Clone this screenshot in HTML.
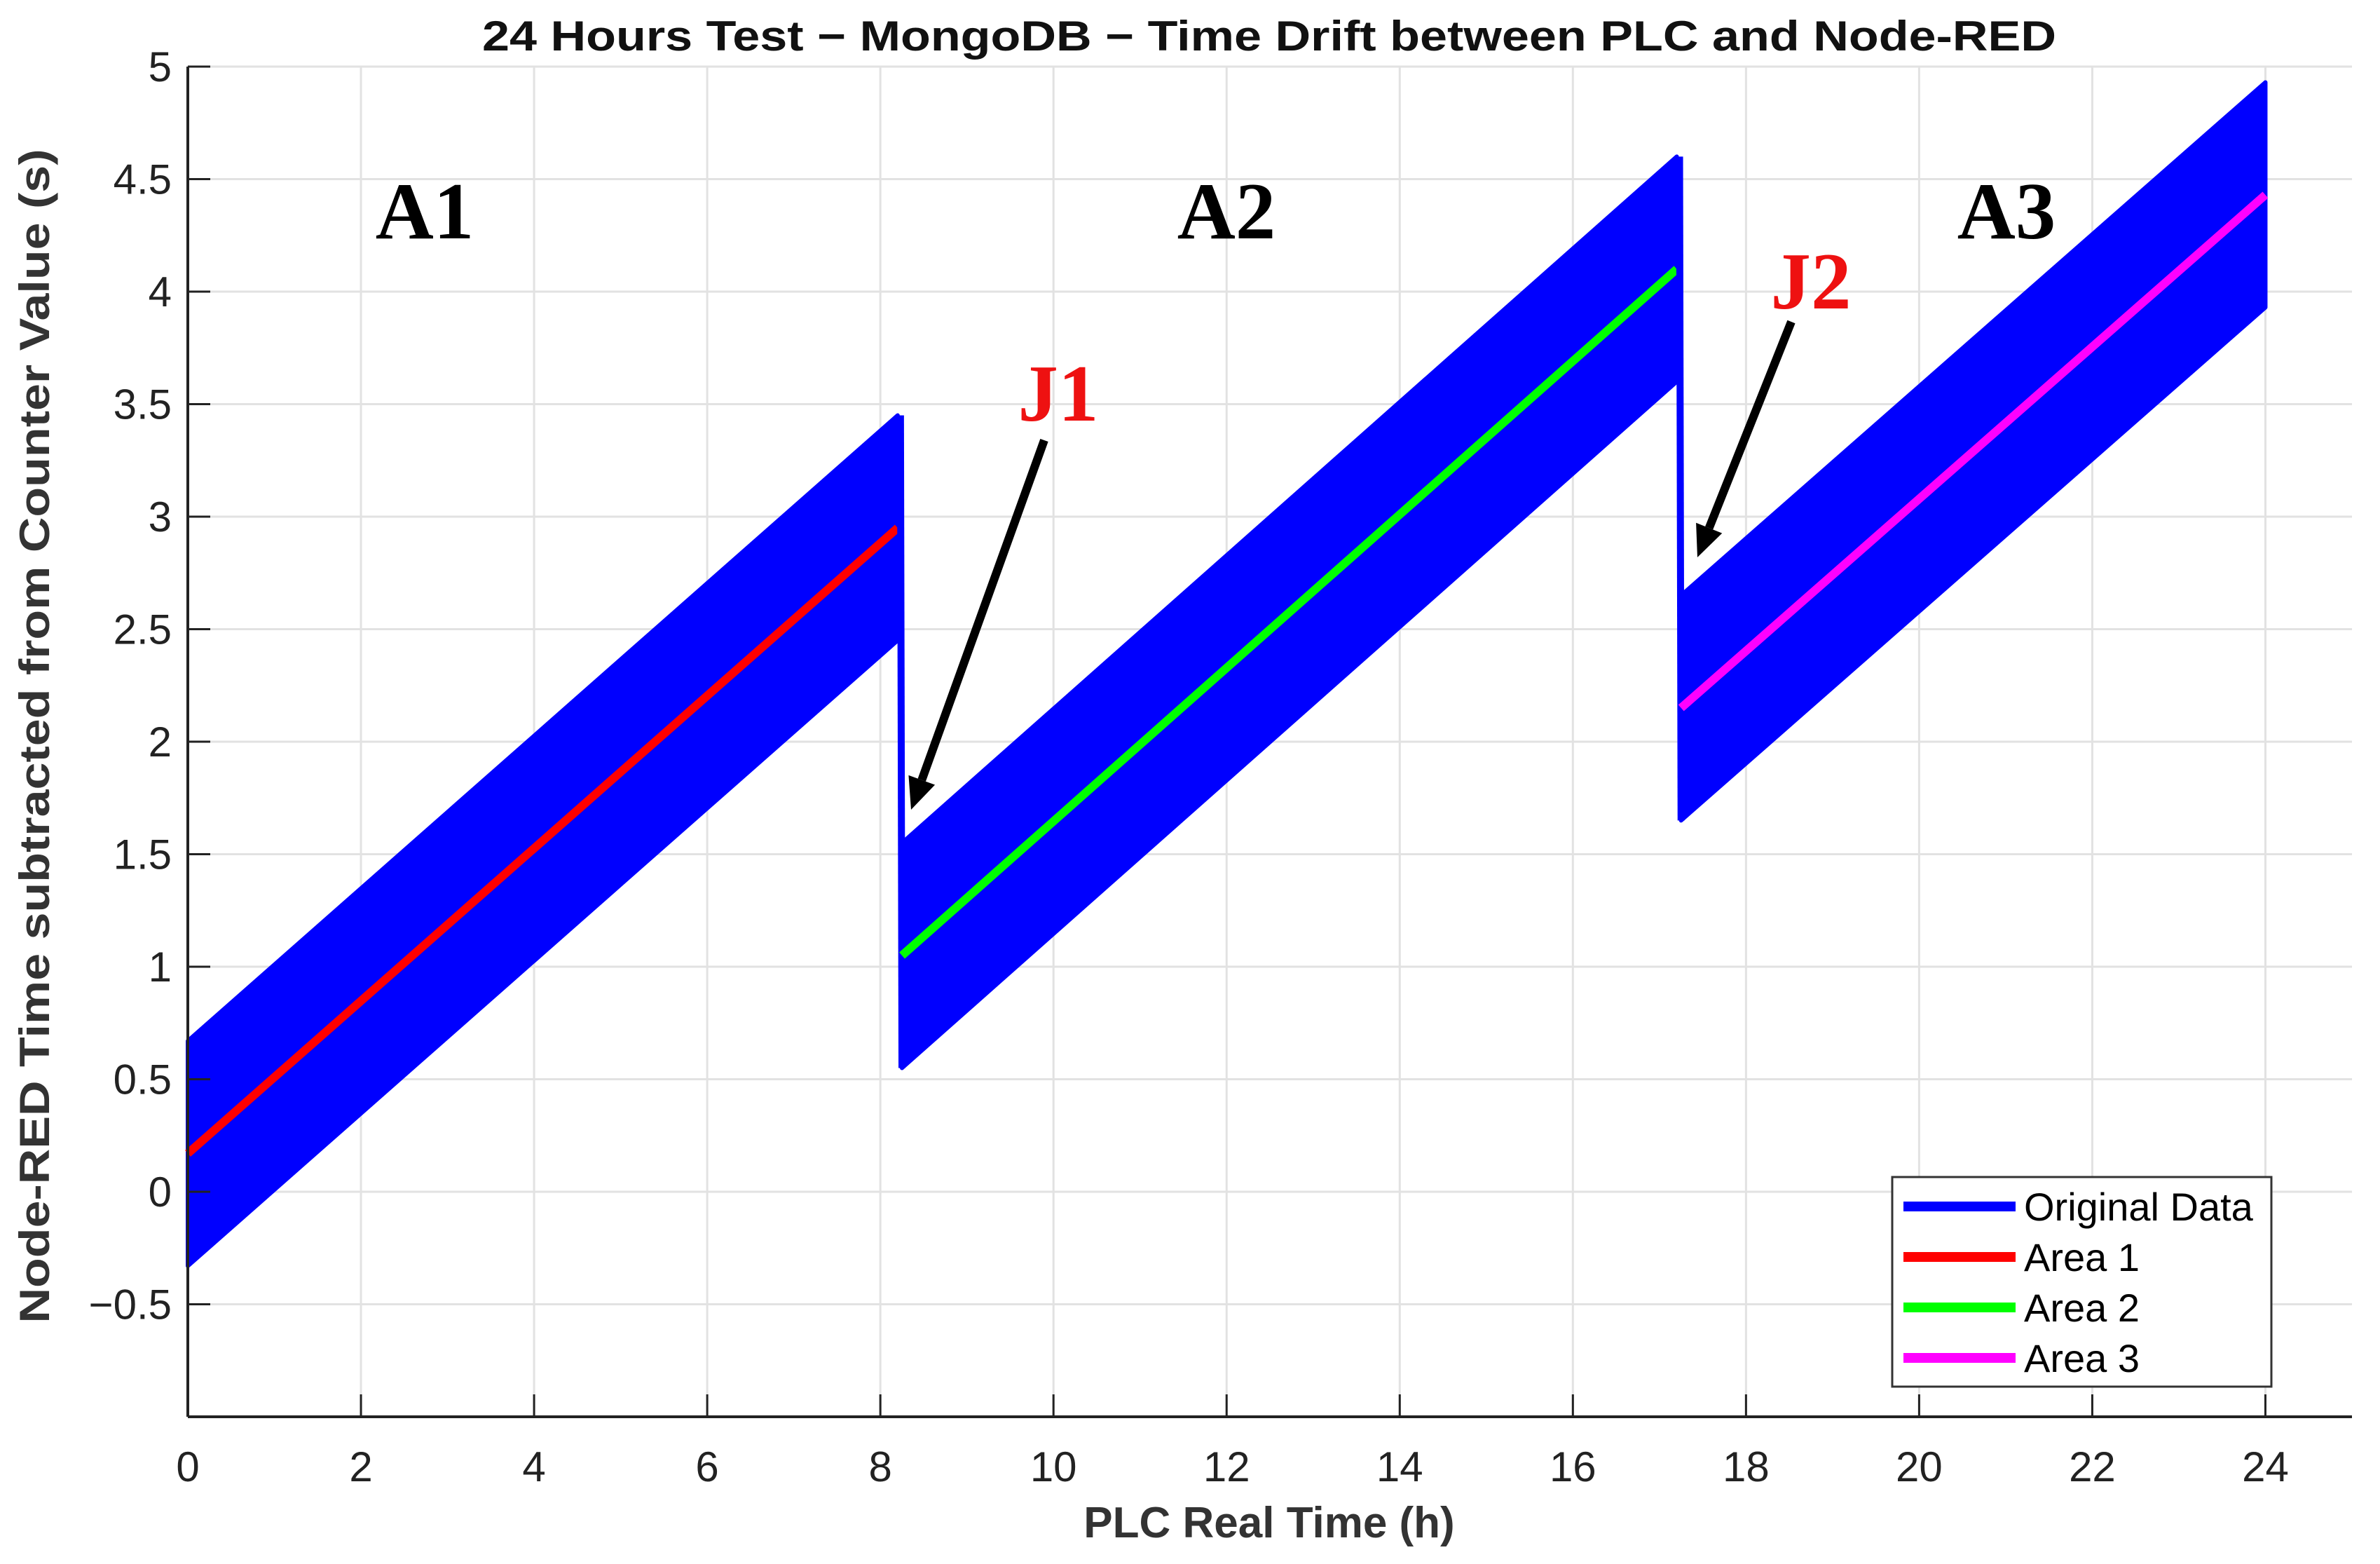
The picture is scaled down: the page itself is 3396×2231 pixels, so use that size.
<!DOCTYPE html>
<html><head><meta charset="utf-8"><style>
html,body{margin:0;padding:0;background:#fff}
svg{display:block}
</style></head><body>
<svg id="chart" width="3396" height="2231" viewBox="0 0 3396 2231" xmlns="http://www.w3.org/2000/svg">
<rect width="3396" height="2231" fill="#fff"/>
<g id="grid"></g>
<g id="data"></g>
<g id="axes"></g>
<text x="1811" y="72" font-family="Liberation Sans, sans-serif" font-weight="bold" font-size="60" text-anchor="middle" textLength="2246" lengthAdjust="spacingAndGlyphs" fill="#111">24 Hours Test − MongoDB − Time Drift between PLC and Node-RED</text>
<text x="1811" y="2193" font-family="Liberation Sans, sans-serif" font-weight="bold" font-size="62" text-anchor="middle" fill="#333">PLC Real Time (h)</text>
<text transform="translate(70,1050) rotate(-90)" font-family="Liberation Sans, sans-serif" font-weight="bold" font-size="60" text-anchor="middle" textLength="1675" lengthAdjust="spacingAndGlyphs" fill="#333">Node-RED Time subtracted from Counter Value (s)</text>
<g font-family="Liberation Serif, serif" font-weight="bold" font-size="115">
<text x="606" y="340" text-anchor="middle" fill="#000">A1</text>
<text x="1750" y="340" text-anchor="middle" fill="#000">A2</text>
<text x="2863" y="340" text-anchor="middle" fill="#000">A3</text>
<text x="1510" y="600" text-anchor="middle" fill="#ee1111">J1</text>
<text x="2584" y="440" text-anchor="middle" fill="#ee1111">J2</text>
</g>
<g id="arrows"></g>
<g>
<rect x="2700" y="1679" width="541" height="299" fill="#fff" stroke="#333" stroke-width="3"/>
<g font-family="Liberation Sans, sans-serif" font-size="56" fill="#000">
<line x1="2716" y1="1721" x2="2876" y2="1721" stroke="#0000ff" stroke-width="14"/>
<text x="2888" y="1741">Original Data</text>
<line x1="2716" y1="1793" x2="2876" y2="1793" stroke="#ff0000" stroke-width="14"/>
<text x="2888" y="1813">Area 1</text>
<line x1="2716" y1="1865" x2="2876" y2="1865" stroke="#00ff00" stroke-width="14"/>
<text x="2888" y="1885">Area 2</text>
<line x1="2716" y1="1937" x2="2876" y2="1937" stroke="#ff00ff" stroke-width="14"/>
<text x="2888" y="1957">Area 3</text>
</g></g>
</svg>
<script>
const xTicks = [0,2,4,6,8,10,12,14,16,18,20,22,24];
const yTicks = [-0.5,0,0.5,1,1.5,2,2.5,3,3.5,4,4.5,5];
const yTickLabels = ["−0.5","0","0.5","1","1.5","2","2.5","3","3.5","4","4.5","5"];
const segStart = [0, 8.25, 17.25];
const segEnd = [8.2, 17.2, 24];
const fitStartVal = [0.17, 1.05, 2.15];
const fitEndVal = [2.95, 4.1, 4.43];
const bandHalf = [0.5, 0.5, 0.5];
const fitColors = ["#ff0000","#00ff00","#ff00ff"];
const fitNames = ["fit-line-area1","fit-line-area2","fit-line-area3"];

const X0=268, X1=3356, Y0=2021, Y1=95, xMin=0,xMax=25,yMin=-1,yMax=5;
const sx=v=>X0+(v-xMin)/(xMax-xMin)*(X1-X0);
const sy=v=>Y0-(v-yMin)/(yMax-yMin)*(Y0-Y1);
const NS="http://www.w3.org/2000/svg";
function mk(tag,attrs,parent){const e=document.createElementNS(NS,tag);for(const k in attrs)e.setAttribute(k,attrs[k]);parent.appendChild(e);return e;}
const grid=document.getElementById('grid'),axes=document.getElementById('axes'),data=document.getElementById('data'),arrows=document.getElementById('arrows');

xTicks.forEach(t=>{
  const g=mk('line',{x1:sx(t),x2:sx(t),y1:Y1,y2:Y0,stroke:'#e2e2e2','stroke-width':3},grid);
  
  
  const tk=mk('line',{x1:sx(t),x2:sx(t),y1:Y0,y2:Y0-32,stroke:'#222','stroke-width':3},axes);
  
  
  const lb=mk('text',{x:sx(t),y:2113,'text-anchor':'middle','font-family':'Liberation Sans, sans-serif','font-size':60,fill:'#222'},axes);
  lb.textContent=t;
  
  
});
yTicks.forEach((t,i)=>{
  const g=mk('line',{x1:X0,x2:X1,y1:sy(t),y2:sy(t),stroke:'#e2e2e2','stroke-width':3},grid);
  
  
  const tk=mk('line',{x1:X0,x2:X0+32,y1:sy(t),y2:sy(t),stroke:'#222','stroke-width':3},axes);
  
  
  const lb=mk('text',{x:245,y:sy(t)+21,'text-anchor':'end','font-family':'Liberation Sans, sans-serif','font-size':60,fill:'#222'},axes);
  lb.textContent=yTickLabels[i];
  
  
});
const ax1=mk('line',{x1:X0,x2:X0,y1:Y1,y2:Y0,stroke:'#222','stroke-width':4},axes);


const ax2=mk('line',{x1:X0,x2:X1,y1:Y0,y2:Y0,stroke:'#222','stroke-width':4},axes);



segStart.forEach((s,i)=>{
  const e=segEnd[i],a=fitStartVal[i],b=fitEndVal[i],h=bandHalf[i];
  const pts=[[s,a-h],[s,a+h],[e,b+h],[e,b-h]].map(p=>sx(p[0])+','+sy(p[1])).join(' ');
  const band=mk('polygon',{points:pts,fill:'#0000ff',stroke:'#0000ff','stroke-width':6,'stroke-linejoin':'round'},data);
  
  
  if(i>0){
    const pe=segEnd[i-1];
    const jl=mk('line',{x1:sx(pe)+4,x2:sx(s),y1:sy(fitEndVal[i-1]+bandHalf[i-1]),y2:sy(a-h),stroke:'#0000ff','stroke-width':10},data);
    
    
  }
  const fl=mk('line',{x1:sx(s),y1:sy(a),x2:sx(e),y2:sy(b),stroke:fitColors[i],'stroke-width':12},data);
  
  
});

function arrow(x1,y1,x2,y2,name){
  const ang=Math.atan2(y2-y1,x2-x1),L=45,W=20;
  const bx=x2-L*Math.cos(ang),by=y2-L*Math.sin(ang);
  const l=mk('line',{x1:x1,y1:y1,x2:bx,y2:by,stroke:'#000','stroke-width':12},arrows);
  
  
  const px=-Math.sin(ang)*W,py=Math.cos(ang)*W;
  const p=mk('polygon',{points:`${x2},${y2} ${bx+px},${by+py} ${bx-px},${by-py}`,fill:'#000'},arrows);
  
  
}
arrow(1490,628,1300,1155,'arrow-j1');
arrow(2556,459,2422,795,'arrow-j2');
</script>
</body></html>
